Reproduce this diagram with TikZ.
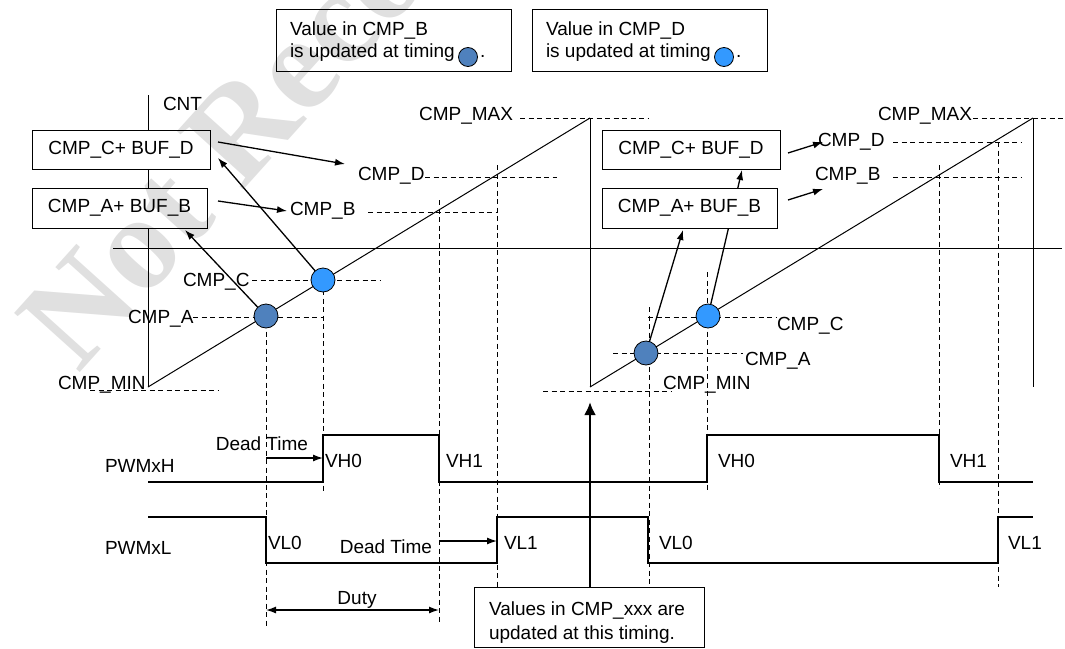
\documentclass[tikz,border=0pt]{standalone}
\usepackage{fontspec}
\setmainfont{Liberation Sans}
\newfontfamily\wmfont{Liberation Serif}
\usetikzlibrary{arrows.meta}
\definecolor{darkdot}{HTML}{4F81BD}
\definecolor{lightdot}{HTML}{3399FF}
\begin{document}
\begin{tikzpicture}[x=1pt,y=-1pt,
  every node/.style={font=\fontsize{19}{22}\selectfont, inner sep=0pt, outer sep=0pt},
  boxnode/.style={draw, fill=white, line width=1pt},
  guide/.style={dash pattern=on 5pt off 3.5pt, line width=0.9pt},
  axis/.style={line width=1pt},
  sig/.style={line width=1.2pt},
  arr/.style={-{Latex[length=10pt,width=7pt]}, line width=1.3pt},
  dot/.style={circle, draw, line width=0.8pt, minimum size=24pt, inner sep=0pt},
  ldot/.style={circle, draw, line width=0.8pt, minimum size=19pt, inner sep=0pt}
]
\useasboundingbox (0,0) rectangle (1065,648);

% axes and ramps
\draw[axis] (148,95) -- (148,387);
\draw[axis] (113,248) -- (1062,248);
\draw[axis] (590,118) -- (590,387);
\draw[axis] (1033,118) -- (1033,387);
\draw[axis] (148,387) -- (590,118);
\draw[axis] (590,387) -- (1033,118);

% horizontal guides
\draw[guide] (520,118) -- (648,118);
\draw[guide] (425,177) -- (557,177);
\draw[guide] (368,212) -- (497,212);
\draw[guide] (252,280) -- (380,280);
\draw[guide] (193,317) -- (323,317);
\draw[guide] (90,390) -- (218,390);
\draw[guide] (973,118) -- (1065,118);
\draw[guide] (893,142) -- (1022,142);
\draw[guide] (893,177) -- (1022,177);
\draw[guide] (648,317) -- (777,317);
\draw[guide] (613,353) -- (743,353);
\draw[guide] (543,391) -- (672,391);

% vertical guides
\draw[guide] (266,323) -- (266,628);
\draw[guide] (323,290) -- (323,492);
\draw[guide] (439,200) -- (439,622);
\draw[guide] (497,165) -- (497,587);
\draw[guide] (649,307) -- (649,587);
\draw[guide] (707,272) -- (707,492);
\draw[guide] (939,165) -- (939,488);
\draw[guide] (998,142) -- (998,587);

% PWM signals
\draw[sig] (148,482) -- (323,482) -- (323,435) -- (439,435) -- (439,482)
  -- (707,482) -- (707,435) -- (939,435) -- (939,482) -- (1033,482);
\draw[sig] (148,517) -- (266,517) -- (266,563) -- (497,563) -- (497,517)
  -- (648,517) -- (648,563) -- (998,563) -- (998,517) -- (1033,517);

% circles
\node[dot, fill=darkdot] (c1) at (266,316) {};
\node[dot, fill=lightdot] (c2) at (323,280) {};
\node[dot, fill=darkdot] (c3) at (646,353) {};
\node[dot, fill=lightdot] (c4) at (708,316) {};

% arrow end points
\coordinate (a1e) at (185,230);
\coordinate (a2e) at (218,158);
\coordinate (a3s) at (218,142);
\coordinate (a3e) at (345,164);
\coordinate (a4s) at (218,201);
\coordinate (a4e) at (287,211);
\coordinate (a5e) at (683,230);
\coordinate (a6e) at (742,170);
\coordinate (a7s) at (788,153);
\coordinate (a7e) at (823,142);
\coordinate (a8s) at (788,200);
\coordinate (a8e) at (823,189);

\draw[arr] (c1) -- (a1e);
\draw[arr] (c2) -- (a2e);
\draw[arr] (a3s) -- (a3e);
\draw[arr] (a4s) -- (a4e);
\draw[arr] (c3) -- (a5e);
\draw[arr] (c4) -- (a6e);
\draw[arr] (a7s) -- (a7e);
\draw[arr] (a8s) -- (a8e);

% boxes
\node[boxnode, minimum width=178pt, minimum height=39pt] (b1) at (121,149.5) {CMP\_C+ BUF\_D};
\node[boxnode, minimum width=175pt, minimum height=40pt] (b2) at (119.5,208) {CMP\_A+ BUF\_B};
\node[boxnode, minimum width=178pt, minimum height=39pt] (b3) at (691,149.5) {CMP\_C+ BUF\_D};
\node[boxnode, minimum width=175pt, minimum height=40pt] (b4) at (689.5,208) {CMP\_A+ BUF\_B};

% legend boxes
\node[boxnode, minimum width=235pt, minimum height=62pt] (L1) at (393.5,40) {};
\node[anchor=base west] (L1a) at (290,35) {Value in CMP\_B};
\node[anchor=base west] (L1b) at (290,57) {is updated at timing};
\node[ldot, fill=darkdot] (L1c) at (468,57) {};
\node[anchor=base west] (L1d) at (480,57) {.};
\node[boxnode, minimum width=235pt, minimum height=62pt] (L2) at (649.5,40) {};
\node[anchor=base west] (L2a) at (546,35) {Value in CMP\_D};
\node[anchor=base west] (L2b) at (546,57) {is updated at timing};
\node[ldot, fill=lightdot] (L2c) at (724,57) {};
\node[anchor=base west] (L2d) at (736,57) {.};

% labels
\node[anchor=base west] (cnt) at (163,110) {CNT};
\node[anchor=base east] (max1) at (513,120) {CMP\_MAX};
\node[anchor=base west] (d1) at (358,180) {CMP\_D};
\node[anchor=base west] (bb1) at (290,215) {CMP\_B};
\node[anchor=base west] (cc1) at (183,286) {CMP\_C};
\node[anchor=base west] (aa1) at (128,323) {CMP\_A};
\node[anchor=base west] (min1) at (58,389) {CMP\_MIN};
\node[anchor=base west] (max2) at (878,120) {CMP\_MAX};
\node[anchor=base west] (d2) at (818,146) {CMP\_D};
\node[anchor=base west] (bb2) at (815,180) {CMP\_B};
\node[anchor=base west] (cc2) at (777,330) {CMP\_C};
\node[anchor=base west] (aa2) at (745,365) {CMP\_A};
\node[anchor=base west] (min2) at (663,389) {CMP\_MIN};

\node[anchor=base west] (pwmh) at (105,472) {PWMxH};
\node[anchor=base west] (pwml) at (105,554) {PWMxL};
\node[anchor=base east] (dt1) at (308,450) {Dead Time};
\node[anchor=base east] (dt2) at (432,553) {Dead Time};
\node[anchor=base west] (vh0) at (325,467) {VH0};
\node[anchor=base west] (vh1) at (446,467) {VH1};
\node[anchor=base west] (vl0) at (268,549) {VL0};
\node[anchor=base west] (vl1) at (504,549) {VL1};
\node[anchor=base west] (vh0b) at (718,467) {VH0};
\node[anchor=base west] (vh1b) at (950,467) {VH1};
\node[anchor=base west] (vl0b) at (659,549) {VL0};
\node[anchor=base west] (vl1b) at (1008,549) {VL1};

% dead time and duty arrows
\coordinate (dt1s) at (266,458);
\coordinate (dt1e) at (323,458);
\coordinate (dt2s) at (439,541);
\coordinate (dt2e) at (497,541);
\draw[arr] (dt1s) -- (dt1e);
\draw[arr] (dt2s) -- (dt2e);
\node[anchor=base] (duty) at (357,604) {Duty};
\coordinate (dus) at (266,610);
\coordinate (due) at (439,610);
\draw[{Latex[length=10pt,width=7pt]}-{Latex[length=10pt,width=7pt]}, line width=1.3pt] (dus) -- (due);

% update timing box and arrow
\node[boxnode, minimum width=230pt, minimum height=60pt] (ub) at (589,617) {};
\node[anchor=base west] (ub1) at (489,615) {Values in CMP\_xxx are};
\node[anchor=base west] (ub2) at (489,639) {updated at this timing.};
\coordinate (upt) at (590,402);
\draw[-{Latex[length=13pt,width=12pt]}, line width=2.6pt] (ub.north -| upt) -- (upt);

% watermark
\node[rotate=48, anchor=base west, text=black, opacity=0.12,
  font=\wmfont\bfseries\fontsize{135}{135}\selectfont] (wm) at (78,374) {Not Recommended for New Design};
\end{tikzpicture}
\end{document}
